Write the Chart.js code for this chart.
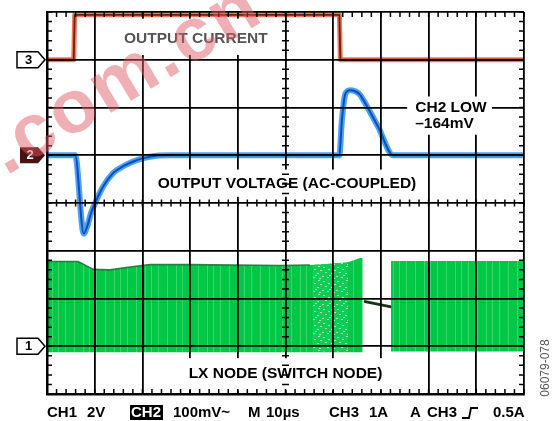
<!DOCTYPE html>
<html>
<head>
<meta charset="utf-8">
<script src="https://cdn.jsdelivr.net/npm/chart.js@4.4.1/dist/chart.umd.min.js"></script>
<style>
  html, body { margin: 0; padding: 0; background: #fff; }
  #c { display: block; }
</style>
</head>
<body>
<canvas id="c" width="558" height="421"></canvas>
<script>
// Horizontal: 10 µs/div over 10 divisions. Vertical graticule: 8 divisions.
const timeSpan = [0, 100];
const divisions = [0, 8];

// CH3 – output current (A), 1 A/div, marker at division 7
const ch3Time = [0, 5.6, 5.8, 61.3, 61.5, 100];
const ch3Amps = [0, 0, 0.94, 0.94, 0, 0];

// CH2 – output voltage, AC-coupled (mV), 100 mV/div, marker at division 5
const ch2Time = [0, 5.9, 7.7, 8.4, 9.2, 10.4, 11.8, 13.9, 16.0, 18.1, 20.2, 23.0, 26.0,
                 61.3, 61.8, 62.5, 63.5, 64.6, 65.6, 66.3, 69.4, 72.6, 100];
const ch2mV   = [0, 0, -164, -150, -122, -93, -65, -37, -23, -13, -6, -1, 0,
                 0, 70, 127, 136, 134, 127, 116, 60, 0, 0];

// CH1 – LX switch node (V), 2 V/div, marker at division 1
// switching envelope before load release
const lxTimeA = [0, 6.5, 9.7, 13.2, 17.4, 21.6, 30, 48.8, 55, 62.8, 65.6, 66.2];
const lxHighA = [3.55, 3.55, 3.22, 3.2, 3.32, 3.42, 3.42, 3.38, 3.4, 3.5, 3.7, 3.7];
const lxLowA  = [-0.25, -0.25, -0.25, -0.25, -0.25, -0.25, -0.25, -0.25, -0.25, -0.25, -0.25, -0.25];
// pulse-skipping stretch inside the envelope
const lxTimeB = [55.8, 63.1];
const lxHighB = [3.4, 3.52];
const lxLowB  = [-0.22, -0.22];
// idle node (switching stopped)
const lxIdleTime = [66.7, 71.9];
const lxIdleV    = [1.87, 1.66];
// switching resumes
const lxTimeC = [72.1, 100];
const lxHighC = [3.57, 3.57];
const lxLowC  = [-0.22, -0.22];

const ch1Scale = 2, ch2Scale = 100, ch3Scale = 1;   // units per division
const ch1Ref = 1, ch2Ref = 5, ch3Ref = 7;           // marker divisions

const toDiv = (ref, scale) => v => ref + v / scale;
const pts = (xs, ys, f) => xs.map((t, i) => ({ x: t, y: f(ys[i]) }));
const ch1 = toDiv(ch1Ref, ch1Scale), ch2 = toDiv(ch2Ref, ch2Scale), ch3 = toDiv(ch3Ref, ch3Scale);

const canvas = document.getElementById('c');
const mainCtx = canvas.getContext('2d');

// faint vertical streaks of the persistence display
function streakPattern() {
  const c = document.createElement('canvas');
  c.width = 31; c.height = 4;
  const g = c.getContext('2d');
  g.fillStyle = '#00c846'; g.fillRect(0, 0, 31, 4);
  g.fillStyle = 'rgba(120,235,160,0.45)';
  [3, 12, 21, 27].forEach(p => g.fillRect(p, 0, 1, 4));
  return mainCtx.createPattern(c, 'repeat');
}
// speckled, sparser switching
function specklePattern() {
  const c = document.createElement('canvas');
  c.width = 14; c.height = 14;
  const g = c.getContext('2d');
  g.fillStyle = '#14cc55'; g.fillRect(0, 0, 14, 14);
  g.fillStyle = 'rgba(200,248,215,0.75)';
  [[1,1],[6,3],[10,0],[3,6],[9,7],[12,4],[0,10],[5,11],[11,12],[7,9]]
    .forEach(([a, b]) => g.fillRect(a, b, 2, 1));
  return mainCtx.createPattern(c, 'repeat');
}

const lineBase = { pointRadius: 0, fill: false, tension: 0, borderJoinStyle: 'round', borderCapStyle: 'round' };

const datasets = [
  // CH3 current
  { ...lineBase, data: pts(ch3Time, ch3Amps, ch3), borderColor: '#6e2012', borderWidth: 1.8 },
  { ...lineBase, data: pts(ch3Time, ch3Amps, ch3), borderColor: 'rgba(232,88,58,0.8)', borderWidth: 5 },
  // CH2 voltage
  { ...lineBase, data: pts(ch2Time, ch2mV, ch2), borderColor: '#0b4fb8', borderWidth: 2, cubicInterpolationMode: 'monotone' },
  { ...lineBase, data: pts(ch2Time, ch2mV, ch2), borderColor: 'rgba(45,145,240,0.85)', borderWidth: 6, cubicInterpolationMode: 'monotone' },
  // CH1 idle level
  { ...lineBase, data: pts(lxIdleTime, lxIdleV, ch1), borderColor: '#173217', borderWidth: 3 },
  // CH1 envelope top edge
  { ...lineBase, data: pts(lxTimeA.slice(0, 9), lxHighA.slice(0, 9), ch1), borderColor: 'rgba(25,120,55,0.9)', borderWidth: 1.6 },
  // CH1 speckled stretch
  { ...lineBase, data: pts(lxTimeB, lxHighB, ch1), borderWidth: 0 },
  { ...lineBase, data: pts(lxTimeB, lxLowB, ch1), borderWidth: 0, fill: '-1', backgroundColor: specklePattern() },
  // CH1 after restart
  { ...lineBase, data: pts(lxTimeC, lxHighC, ch1), borderWidth: 0 },
  { ...lineBase, data: pts(lxTimeC, lxLowC, ch1), borderWidth: 0, fill: '-1', backgroundColor: streakPattern() },
  // CH1 before release
  { ...lineBase, data: pts(lxTimeA, lxHighA, ch1), borderWidth: 0 },
  { ...lineBase, data: pts(lxTimeA, lxLowA, ch1), borderWidth: 0, fill: '-1', backgroundColor: streakPattern() }
];

const FONT = "'Liberation Sans', Arial, Helvetica, sans-serif";
const minCh2 = Math.min(...ch2mV);

const annotations = {
  id: 'scopeAnnotations',
  afterDraw(chart) {
    const { ctx, chartArea: a, scales: { x, y } } = chart;
    const px = v => x.getPixelForValue(v), py = v => y.getPixelForValue(v);

    // white label boxes cut through the graticule
    ctx.save();
    ctx.fillStyle = '#fff';
    const box = (t0, t1, d0, d1) => ctx.fillRect(px(t0), py(d1), px(t1) - px(t0), py(d0) - py(d1));
    box(11, 49, 7.1, 7.86);
    box(21.2, 79, 4.13, 4.7);
    box(75.5, 93.3, 5.43, 6.23);
    box(28.5, 72.1, 0.08, 0.75);

    ctx.textBaseline = 'middle';
    ctx.font = `bold 15.5px ${FONT}`;
    ctx.textAlign = 'center';
    ctx.fillStyle = '#555';
    ctx.fillText('OUTPUT CURRENT', px(31.2), py(7.44));
    ctx.fillStyle = '#000';
    ctx.fillText('OUTPUT VOLTAGE (AC-COUPLED)', px(50.3), py(4.41));
    ctx.fillText('LX NODE (SWITCH NODE)', px(50), py(0.42));
    ctx.textAlign = 'left';
    ctx.fillText('CH2 LOW', px(77.2), py(6.0));
    ctx.fillText('\u2013' + Math.abs(minCh2) + 'mV', px(77.2), py(5.66));
    ctx.restore();

    // minor graticule ticks: borders and centre cross
    ctx.save();
    ctx.strokeStyle = '#000';
    ctx.lineWidth = 1.5;
    ctx.beginPath();
    for (let t = 0; t <= 100; t += 2) {
      const X = px(t);
      ctx.moveTo(X, a.top); ctx.lineTo(X, a.top + 5);
      ctx.moveTo(X, a.bottom); ctx.lineTo(X, a.bottom - 5);
      ctx.moveTo(X, py(4) - 3.5); ctx.lineTo(X, py(4) + 3.5);
    }
    for (let d = 0; d <= 8.001; d += 0.2) {
      const Y = py(d);
      ctx.moveTo(a.left, Y); ctx.lineTo(a.left + 5, Y);
      ctx.moveTo(a.right, Y); ctx.lineTo(a.right - 5, Y);
      ctx.moveTo(px(50) - 3.5, Y); ctx.lineTo(px(50) + 3.5, Y);
    }
    ctx.stroke();
    ctx.restore();

    // channel reference markers
    const marker = (label, div, fill, left) => {
      const Y = py(div), R = a.left - 2, h = 8;
      ctx.save();
      ctx.beginPath();
      ctx.moveTo(left, Y - h); ctx.lineTo(R - 7, Y - h); ctx.lineTo(R, Y);
      ctx.lineTo(R - 7, Y + h); ctx.lineTo(left, Y + h); ctx.closePath();
      ctx.fillStyle = fill ? '#4a1212' : '#fff';
      ctx.fill();
      if (!fill) { ctx.strokeStyle = '#000'; ctx.lineWidth = 1.5; ctx.stroke(); }
      ctx.fillStyle = fill ? '#fff' : '#000';
      ctx.font = `bold 13px ${FONT}`;
      ctx.textAlign = 'center'; ctx.textBaseline = 'middle';
      ctx.fillText(label, (left + R - 7) / 2 + 1, Y + 0.5);
      ctx.restore();
    };
    marker('3', ch3Ref, false, 17);
    marker('2', ch2Ref, true, 20);
    marker('1', ch1Ref, false, 17);

    // settings readout
    ctx.save();
    ctx.font = `bold 15px ${FONT}`;
    ctx.textBaseline = 'middle';
    ctx.textAlign = 'left';
    const yr = 413;
    ctx.fillStyle = '#000';
    ctx.fillRect(130, 405, 33, 15);
    const items = [['CH1', 47], ['2V', 87], ['100mV~', 173], ['M', 248], ['10\u00b5s', 266],
                   ['CH3', 329], ['1A', 369], ['A', 410], ['CH3', 427], ['0.5A', 493]];
    items.forEach(([s, X]) => ctx.fillText(s, X, yr));
    ctx.fillStyle = '#fff';
    ctx.fillText('CH2', 131, yr);
    // rising-edge trigger glyph
    ctx.strokeStyle = '#000'; ctx.lineWidth = 1.8;
    ctx.beginPath();
    ctx.moveTo(462, 418); ctx.lineTo(469, 418); ctx.lineTo(471, 408); ctx.lineTo(478, 408);
    ctx.stroke();
    ctx.restore();

    // figure number
    ctx.save();
    ctx.translate(546, 368);
    ctx.rotate(-Math.PI / 2);
    ctx.font = `12px ${FONT}`;
    ctx.fillStyle = '#555';
    ctx.textAlign = 'center'; ctx.textBaseline = 'middle';
    ctx.fillText('06079-078', 0, 0);
    ctx.restore();

    // site watermark
    ctx.save();
    ctx.translate(6, 176);
    ctx.rotate(-31 * Math.PI / 180);
    ctx.font = `bold 75px ${FONT}`;
    if ('letterSpacing' in ctx) ctx.letterSpacing = '3px';
    ctx.fillStyle = 'rgba(222,90,100,0.48)';
    ctx.textBaseline = 'alphabetic';
    ctx.fillText('.com.cn', 0, 0);
    ctx.restore();
  }
};

new Chart(mainCtx, {
  type: 'line',
  data: { datasets },
  options: {
    responsive: false,
    animation: false,
    devicePixelRatio: 1,
    layout: { padding: { left: 47, right: 34, top: 12, bottom: 27 } },
    plugins: { legend: { display: false }, tooltip: { enabled: false }, filler: { propagate: false } },
    scales: {
      x: {
        type: 'linear', min: timeSpan[0], max: timeSpan[1],
        ticks: { display: false, stepSize: 10 },
        grid: { color: '#000', lineWidth: 1.8, drawTicks: false, z: 1 },
        border: { display: true, color: '#000', width: 2.5, z: 1 }
      },
      y: {
        type: 'linear', min: divisions[0], max: divisions[1],
        ticks: { display: false, stepSize: 1 },
        grid: { color: '#000', lineWidth: 1.8, drawTicks: false, z: 1 },
        border: { display: true, color: '#000', width: 2.5, z: 1 }
      }
    }
  },
  plugins: [annotations]
});
</script>
</body>
</html>
